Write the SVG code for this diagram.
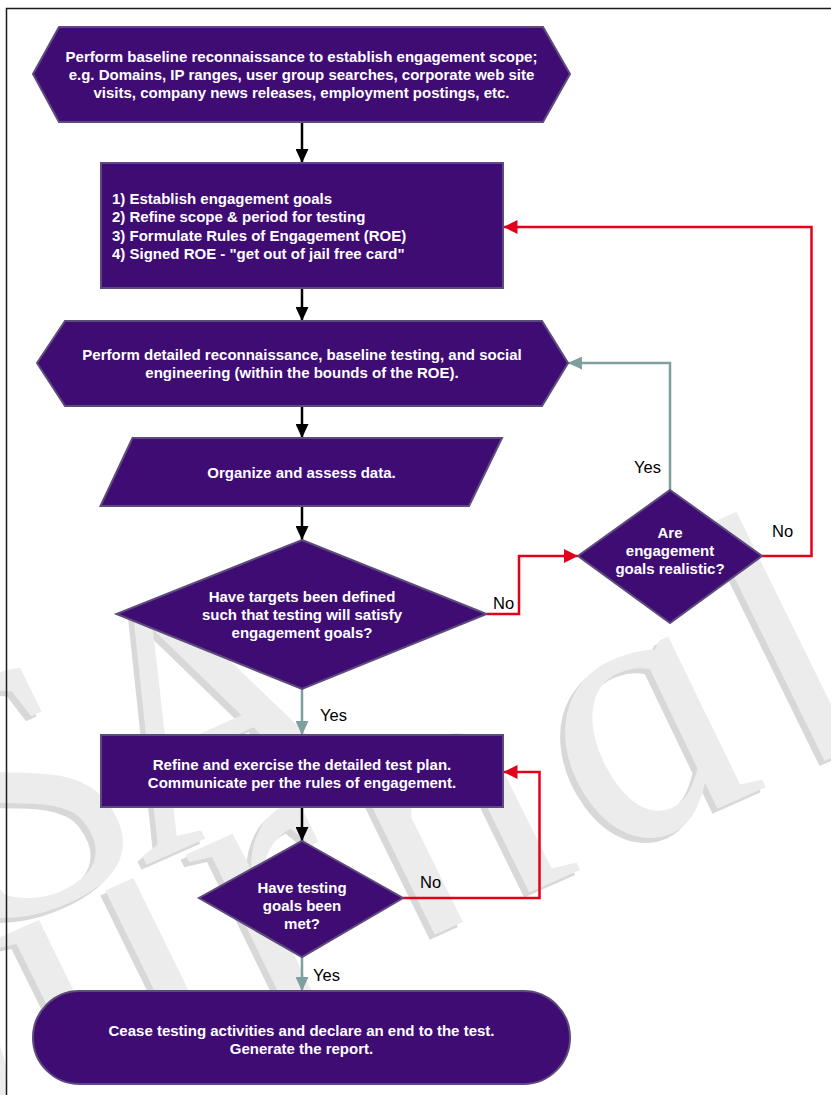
<svg xmlns="http://www.w3.org/2000/svg" width="831" height="1095" viewBox="0 0 831 1095">
<style>
  .node { fill: #3f0c73; stroke: #5e4b7d; stroke-width: 2; }
  .nt { font-family: "Liberation Sans", Arial, sans-serif; font-weight: bold; font-size: 15px; fill: #ffffff; }
  .c { text-anchor: middle; }
  .lbl { font-family: "Liberation Sans", Arial, sans-serif; font-size: 16.5px; fill: #000000; }
  .blk { fill: none; stroke: #000000; stroke-width: 2.5; marker-end: url(#ah-black); }
  .teal { fill: none; stroke: #7f9f9f; stroke-width: 2.5; marker-end: url(#ah-teal); }
  .red { fill: none; stroke: #e3001b; stroke-width: 2.5; marker-end: url(#ah-red); }
  .wm { font-family: "Liberation Serif", "Times New Roman", serif; font-style: italic; }
  .wm1 { font-size: 360px; }
  .wm2 { font-size: 380px; letter-spacing: 20px; }
</style>
<defs>
  <marker id="ah-black" markerUnits="userSpaceOnUse" markerWidth="14" markerHeight="13" refX="14" refY="6.5" orient="auto">
    <path d="M0,0 L14,6.5 L0,13 z" fill="#000000"/>
  </marker>
  <marker id="ah-teal" markerUnits="userSpaceOnUse" markerWidth="14" markerHeight="13" refX="14" refY="6.5" orient="auto">
    <path d="M0,0 L14,6.5 L0,13 z" fill="#7f9f9f"/>
  </marker>
  <marker id="ah-red" markerUnits="userSpaceOnUse" markerWidth="14" markerHeight="14" refX="14" refY="7" orient="auto">
    <path d="M0,0 L14,7 L0,14 z" fill="#e3001b"/>
  </marker>
</defs>
<rect x="0" y="0" width="831" height="1095" fill="#ffffff"/>

<g id="watermark" class="wm">
  <g transform="translate(-5,5)" fill="#d8d8d8">
    <text class="wm1" transform="translate(0,930) rotate(-24) skewX(12)">SA</text>
    <text class="wm2" transform="translate(-287,1256) rotate(-24) skewX(12)">Journal</text>
  </g>
  <g fill="#ececec">
    <text class="wm1" transform="translate(0,930) rotate(-24) skewX(12)">SA</text>
    <text class="wm2" transform="translate(-287,1256) rotate(-24) skewX(12)">Journal</text>
  </g>
</g>

<rect x="6.5" y="8.5" width="900" height="1200" fill="none" stroke="#1a1a1a" stroke-width="1.5"/>

<g id="connectors">
  <line class="blk" x1="302" y1="122" x2="302" y2="163"/>
  <line class="blk" x1="302" y1="288" x2="302" y2="321"/>
  <line class="blk" x1="302" y1="406" x2="302" y2="438"/>
  <line class="blk" x1="302" y1="506" x2="302" y2="540"/>
  <line class="teal" x1="302" y1="689" x2="302" y2="735"/>
  <line class="blk" x1="302" y1="807" x2="302" y2="841"/>
  <line class="teal" x1="302" y1="957" x2="302" y2="991"/>
  <polyline class="red" points="486.5,614 519,614 519,556 578,556"/>
  <polyline class="teal" points="670,490 670,363 568,363"/>
  <polyline class="red" points="762,556 811.5,556 811.5,227 503.5,227"/>
  <polyline class="red" points="403,898 539.5,898 539.5,772 503.5,772"/>
  <text class="lbl" x="320" y="721">Yes</text>
  <text class="lbl" x="493" y="609">No</text>
  <text class="lbl" x="634" y="473">Yes</text>
  <text class="lbl" x="772" y="537">No</text>
  <text class="lbl" x="420" y="888">No</text>
  <text class="lbl" x="313" y="981">Yes</text>
</g>

<g id="n1">
  <polygon class="node" points="33,74 59,27 543,27 570,74 543,122 59,122"/>
  <text class="nt c" x="301.5" y="61.5">Perform baseline reconnaissance to establish engagement scope;</text>
  <text class="nt c" x="301.5" y="79.5">e.g. Domains, IP ranges, user group searches, corporate web site</text>
  <text class="nt c" x="301.5" y="97.5">visits, company news releases, employment postings, etc.</text>
</g>

<g id="n2">
  <rect class="node" x="101" y="163" width="402" height="125"/>
  <text class="nt" x="112" y="203.5">1) Establish engagement goals</text>
  <text class="nt" x="112" y="222">2) Refine scope &amp; period for testing</text>
  <text class="nt" x="112" y="240.5">3) Formulate Rules of Engagement (ROE)</text>
  <text class="nt" x="112" y="259">4) Signed ROE - "get out of jail free card"</text>
</g>

<g id="n3">
  <polygon class="node" points="37,363 65,321 542,321 568,363 542,406 65,406"/>
  <text class="nt c" x="302" y="359.5">Perform detailed reconnaissance, baseline testing, and social</text>
  <text class="nt c" x="302" y="377.5">engineering (within the bounds of the ROE).</text>
</g>

<g id="n4">
  <polygon class="node" points="132.5,438 502,438 469,506 100.5,506"/>
  <text class="nt c" x="301.5" y="477.5">Organize and assess data.</text>
</g>

<g id="n5">
  <polygon class="node" points="302,540 486.5,614 302,689 116.5,614"/>
  <text class="nt c" x="302" y="601.5">Have targets been defined</text>
  <text class="nt c" x="302" y="619.5">such that testing will satisfy</text>
  <text class="nt c" x="302" y="637.5">engagement goals?</text>
</g>

<g id="n6">
  <polygon class="node" points="670,490 762,556 670,623 578,556"/>
  <text class="nt c" x="670" y="537.5">Are</text>
  <text class="nt c" x="670" y="555.5">engagement</text>
  <text class="nt c" x="670" y="573.5">goals realistic?</text>
</g>

<g id="n7">
  <rect class="node" x="101" y="735" width="402" height="72"/>
  <text class="nt c" x="302" y="769.5">Refine and exercise the detailed test plan.</text>
  <text class="nt c" x="302" y="787.5">Communicate per the rules of engagement.</text>
</g>

<g id="n8">
  <polygon class="node" points="302,841 403,898 302,957 199,898"/>
  <text class="nt c" x="302" y="892.5">Have testing</text>
  <text class="nt c" x="302" y="910.5">goals been</text>
  <text class="nt c" x="302" y="928.5">met?</text>
</g>

<g id="n9">
  <rect class="node" x="33" y="991" width="537" height="93" rx="46.5" ry="46.5"/>
  <text class="nt c" x="301.5" y="1035.5">Cease testing activities and declare an end to the test.</text>
  <text class="nt c" x="301.5" y="1053.5">Generate the report.</text>
</g>
</svg>
